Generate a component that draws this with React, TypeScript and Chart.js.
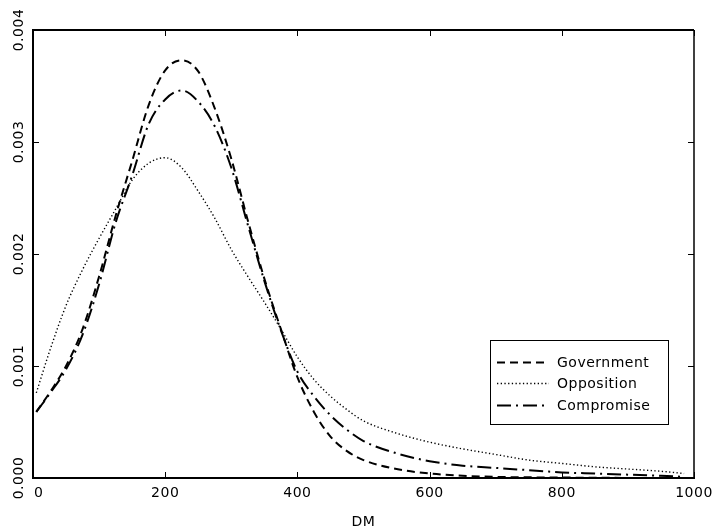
import React, { useEffect, useRef } from "react";
import { Chart, registerables } from "chart.js";

Chart.register(...registerables);

const xValues = [5, 25, 50, 75, 100, 125, 150, 175, 200, 225, 250, 275, 300, 325, 350, 375, 400, 425, 450, 475, 500, 550, 600, 650, 700, 750, 800, 850, 900, 950, 985];
const government = [0.00059, 0.00076, 0.001, 0.00133, 0.0018, 0.00234, 0.00283, 0.00333, 0.00364, 0.00373, 0.00363, 0.0033, 0.00285, 0.0023, 0.00178, 0.00133, 0.0009, 0.00059, 0.00037, 0.00024, 0.00016, 0.00008, 0.00004, 0.00002, 0.00001, 0.000006, 0.000004, 0.000002, 0.000001, 0.000001, 0];
const opposition = [0.00076, 0.00113, 0.00154, 0.00186, 0.00214, 0.0024, 0.00266, 0.00281, 0.00286, 0.00277, 0.00256, 0.00232, 0.00204, 0.0018, 0.00157, 0.00133, 0.00108, 0.00088, 0.00073, 0.00061, 0.00051, 0.0004, 0.00032, 0.00026, 0.00021, 0.00016, 0.00013, 0.0001, 0.00008, 0.00006, 0.00004];
const compromise = [0.00059, 0.00075, 0.00097, 0.00128, 0.00173, 0.00228, 0.0027, 0.00316, 0.00338, 0.00346, 0.00336, 0.00314, 0.00277, 0.00226, 0.00176, 0.00132, 0.00095, 0.00073, 0.00056, 0.00043, 0.00033, 0.00022, 0.00015, 0.00011, 0.00009, 0.00007, 0.00005, 0.00004, 0.00003, 0.00002, 0.00001];

const seriesLabels = ["Government", "Opposition", "Compromise"];
const xTicks = [0, 200, 400, 600, 800, 1000];
const xTickLabels = ["0", "200", "400", "600", "800", "1000"];
const yTicks = [0, 0.001, 0.002, 0.003, 0.004];
const yTickLabels = ["0.000", "0.001", "0.002", "0.003", "0.004"];
const xTitle = "DM";

const FONT = "14px 'DejaVu Sans'";

const framePlugin = {
  id: "frameTicksLegend",
  afterDraw(chart: any) {
    const ctx = chart.ctx as CanvasRenderingContext2D;
    const area = chart.chartArea;
    const xs = chart.scales.x;
    const ys = chart.scales.y;
    ctx.save();
    ctx.strokeStyle = "#000";
    ctx.fillStyle = "#000";
    ctx.setLineDash([]);
    // frame
    ctx.lineWidth = 2;
    ctx.beginPath();
    ctx.moveTo(area.left, area.top);
    ctx.lineTo(area.right, area.top);
    ctx.moveTo(area.left, area.top - 1);
    ctx.lineTo(area.left, area.bottom + 1);
    ctx.moveTo(area.left, area.bottom);
    ctx.lineTo(area.right + 1, area.bottom);
    ctx.stroke();
    ctx.lineWidth = 1.5;
    ctx.beginPath();
    ctx.moveTo(area.right, area.top);
    ctx.lineTo(area.right, area.bottom);
    ctx.stroke();
    // ticks
    ctx.lineWidth = 1;
    ctx.beginPath();
    const tl = 6;
    xTicks.forEach((v) => {
      const px = Math.round(xs.getPixelForValue(v)) + 0.5;
      ctx.moveTo(px, area.bottom);
      ctx.lineTo(px, area.bottom - tl);
      ctx.moveTo(px, area.top);
      ctx.lineTo(px, area.top + tl);
    });
    yTicks.forEach((v) => {
      const py = Math.round(ys.getPixelForValue(v)) + 0.5;
      ctx.moveTo(area.left, py);
      ctx.lineTo(area.left + tl, py);
      ctx.moveTo(area.right, py);
      ctx.lineTo(area.right - tl, py);
    });
    ctx.stroke();
    // labels
    ctx.font = FONT;
    (ctx as any).letterSpacing = "0.5px";
    ctx.textBaseline = "middle";
    ctx.textAlign = "left";
    xTicks.forEach((v, i) => {
      const px = xs.getPixelForValue(v);
      const txt = xTickLabels[i];
      const w = ctx.measureText(txt).width;
      let left = px - w / 2;
      if (left < area.left + 1) left = area.left + 1;
      ctx.fillText(txt, left, area.bottom + 15);
    });
    yTicks.forEach((v, i) => {
      const py = ys.getPixelForValue(v);
      ctx.save();
      ctx.translate(19, py);
      ctx.rotate(-Math.PI / 2);
      ctx.textAlign = "center";
      ctx.fillText(yTickLabels[i], 0, 0);
      ctx.restore();
    });
    ctx.textAlign = "center";
    ctx.fillText(xTitle, (area.left + area.right) / 2, area.bottom + 44);
    // legend
    const lx = 490, ly = 340, lw = 178, lh = 84;
    ctx.lineWidth = 1;
    ctx.strokeRect(lx + 0.5, ly + 0.5, lw, lh);
    const rows = [362, 383, 405];
    chart.data.datasets.forEach((ds: any, i: number) => {
      const y = rows[i];
      ctx.save();
      ctx.lineWidth = ds.borderWidth;
      ctx.setLineDash(ds.borderDash || []);
      ctx.beginPath();
      ctx.moveTo(497, y + 0.5);
      ctx.lineTo(549, y + 0.5);
      ctx.stroke();
      ctx.restore();
      ctx.textAlign = "left";
      ctx.fillText(ds.label, 557, y + 1);
    });
    ctx.restore();
  },
};

export default function App() {
  const ref = useRef<HTMLCanvasElement>(null);
  useEffect(() => {
    if (!ref.current) return;
    const mk = (vals: number[]) => xValues.map((x, i) => ({ x, y: vals[i] }));
    const chart = new Chart(ref.current, {
      type: "line",
      data: {
        datasets: [
          { label: seriesLabels[0], data: mk(government), borderColor: "#000", borderWidth: 2, borderDash: [8, 5], pointRadius: 0, fill: false, cubicInterpolationMode: "monotone" },
          { label: seriesLabels[1], data: mk(opposition), borderColor: "#000", borderWidth: 1.4, borderDash: [1.3, 2.4], pointRadius: 0, fill: false, cubicInterpolationMode: "monotone" },
          { label: seriesLabels[2], data: mk(compromise), borderColor: "#000", borderWidth: 2, borderDash: [14, 5, 2, 5], pointRadius: 0, fill: false, cubicInterpolationMode: "monotone" },
        ],
      },
      options: {
        animation: false,
        responsive: false,
        layout: { padding: { left: 33, top: 30, right: 21, bottom: 53 } },
        plugins: { legend: { display: false }, tooltip: { enabled: false } },
        scales: {
          x: { type: "linear", min: 0, max: 1000, display: false },
          y: { type: "linear", min: 0, max: 0.004, display: false },
        },
      },
      plugins: [framePlugin],
    } as any);
    return () => chart.destroy();
  }, []);
  return (
    <div style={{ position: "absolute", left: 0, top: 0, width: 715, height: 531, background: "#fff" }}>
      <canvas ref={ref} width={715} height={531} style={{ display: "block" }} />
    </div>
  );
}
